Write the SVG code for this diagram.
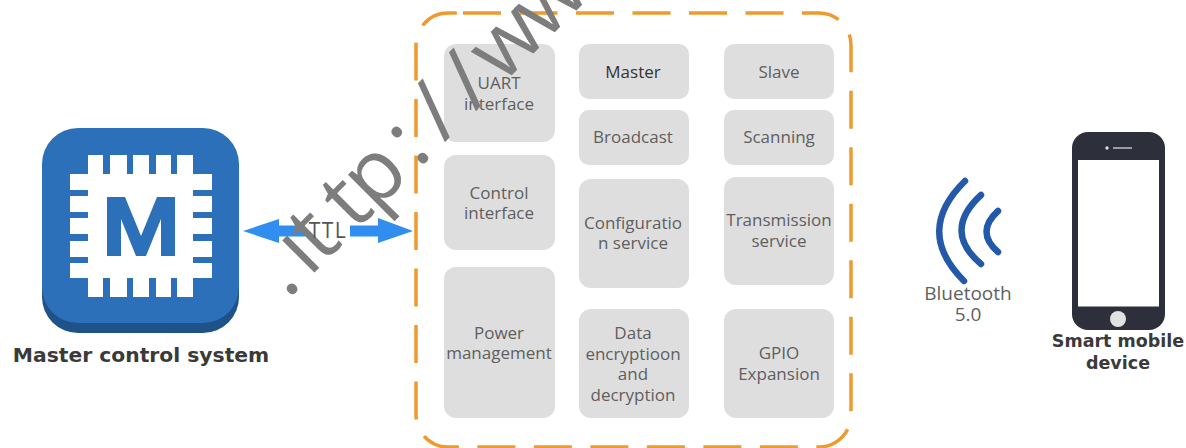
<svg xmlns="http://www.w3.org/2000/svg" width="1186" height="448" viewBox="0 0 1186 448">
<style>
text{font-family:"Open Sans","DejaVu Sans",sans-serif;fill:#5f5f5f;font-size:17px;text-anchor:middle}
.b{fill:#dedede}
.bold{font-family:"DejaVu Sans",sans-serif;font-weight:700;fill:#3a3a3a}
.wave{fill:none;stroke:#2458a8;stroke-width:6.5;stroke-linecap:round}
.wm{fill:#7d7d7d;font-family:"Open Sans",sans-serif;font-size:85px;text-anchor:start}
</style>
<rect width="1186" height="448" fill="#fff"/>
<g id="container"><path d="M463 13H819A32 32 0 0 1 851 45V415A32 32 0 0 1 819 447H448A32 32 0 0 1 416 415V45A32 32 0 0 1 448 13Z" fill="none" stroke="#ee9a2e" stroke-width="3.5" stroke-dasharray="38 18.5"/></g>
<g id="master-system">
<rect x="42" y="134" width="197" height="199" rx="36" fill="#1f5288"/>
<rect x="42" y="128" width="197" height="195" rx="36" fill="#2b70b9"/>
<path fill="#fff" d="M88 155H103V174H110V155H127V174H133V155H149V174H156V155H171V174H177V155H193V174H212V190H193V196H212V212H193V218H212V234H193V241H212V257H193V263H212V278H193V297H177V278H171V297H156V278H149V297H133V278H127V297H110V278H103V297H88V278H70V263H88V257H70V241H88V234H70V218H88V212H70V196H88V190H70V174H88Z"/>
<path fill="#2b70b9" d="M107 256V197H125L141 236L157 197H175V256H161V219L146 256H136L121 219V256Z"/>
<text class="bold" x="141" y="362" style="font-size:20.3px">Master control system</text>
</g>
<g id="connectors">
<path fill="#2f8ef0" d="M243 231L279 219V225.500H305V236.500H279V243ZM350 225.500H378V218L413 231L378 243V236.500H350Z"/>
</g>
<g id="uart"><rect class="b" x="444" y="44" width="111" height="98" rx="12"/><text x="499" y="89">UART</text><text x="499" y="110">interface</text></g>
<g id="control"><rect class="b" x="444" y="155" width="111" height="95" rx="12"/><text x="499" y="199">Control</text><text x="499" y="219">interface</text></g>
<g id="power"><rect class="b" x="444" y="267" width="111" height="151" rx="12"/><text x="499" y="339">Power</text><text x="499" y="359">management</text></g>
<g id="master"><rect class="b" x="579" y="44" width="110" height="55" rx="10"/><text x="633" y="78" style="fill:#333">Master</text></g>
<g id="broadcast"><rect class="b" x="579" y="110" width="110" height="55" rx="10"/><text x="633" y="143">Broadcast</text></g>
<g id="configuration"><rect class="b" x="579" y="179" width="110" height="109" rx="12"/><text x="633" y="229">Configuratio</text><text x="633" y="249">n service</text></g>
<g id="encryption"><rect class="b" x="579" y="309" width="110" height="109" rx="12"/><text x="633" y="339">Data</text><text x="633" y="360">encryptioon</text><text x="633" y="380">and</text><text x="633" y="401">decryption</text></g>
<g id="slave"><rect class="b" x="724" y="44" width="110" height="55" rx="10"/><text x="779" y="78">Slave</text></g>
<g id="scanning"><rect class="b" x="724" y="110" width="110" height="55" rx="10"/><text x="779" y="143">Scanning</text></g>
<g id="transmission"><rect class="b" x="724" y="177" width="110" height="108" rx="12"/><text x="779" y="226">Transmission</text><text x="779" y="247">service</text></g>
<g id="gpio"><rect class="b" x="724" y="309" width="110" height="109" rx="12"/><text x="779" y="359">GPIO</text><text x="779" y="380">Expansion</text></g>
<g id="bluetooth">
<path class="wave" d="M965 181Q914 231 964 281"/><path class="wave" d="M981 195Q942 231 981 264"/><path class="wave" d="M998 211Q975 232 998 252"/>
<text x="968" y="300" style="font-size:19px">Bluetooth</text><text x="968" y="321" style="font-size:19px">5.0</text>
</g>
<g id="phone">
<rect x="1072" y="132" width="93" height="198" rx="16" fill="#2d2f3a"/>
<rect x="1078" y="160" width="81" height="146.500" fill="#fff"/>
<circle cx="1118" cy="319" r="8" fill="#e2e2e2"/>
<circle cx="1107" cy="148" r="1.700" fill="#dcdcdc"/><rect x="1113" y="147" width="19" height="2" fill="#9a9ca4"/>
<text class="bold" x="1118" y="347" style="font-size:17.500px">Smart mobile</text><text class="bold" x="1118" y="369" style="font-size:17.500px">device</text>
</g>
<text class="wm" transform="translate(295 292) rotate(-45)" x="-11 20 39 85 113 174 211 255 293 354 415">.ıttp://www</text>
<text x="328" y="238" style="font-size:21px;letter-spacing:1.5px;fill:#555">TTL</text>
</svg>
